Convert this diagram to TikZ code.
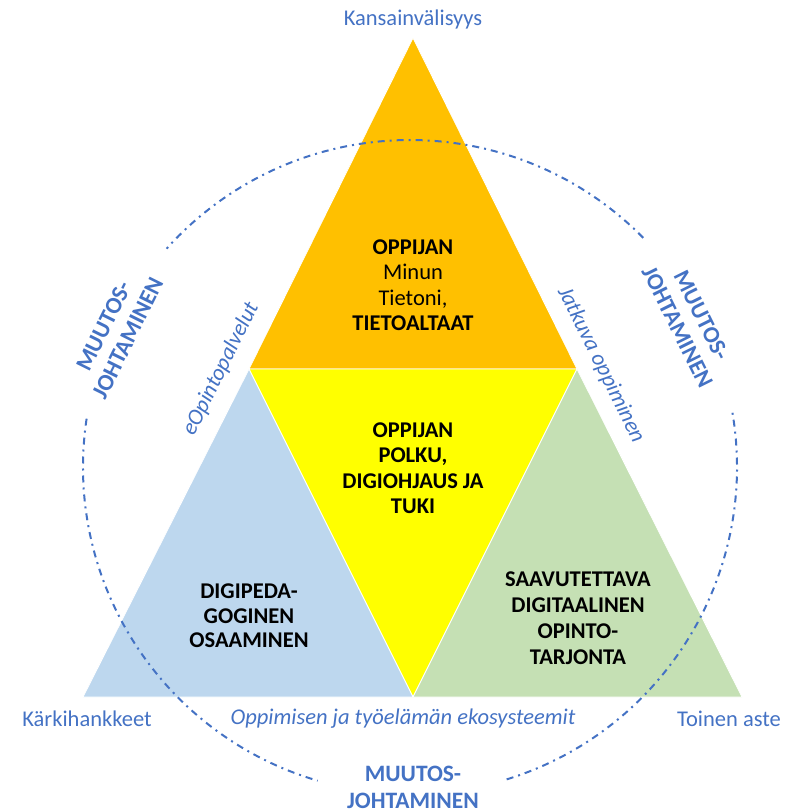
\documentclass[tikz,border=0pt]{standalone}
\usepackage{fontspec}
\setmainfont{Carlito}
\definecolor{ringblue}{HTML}{4472C4}
\definecolor{toporange}{HTML}{FFC000}
\definecolor{midyellow}{HTML}{FFFF00}
\definecolor{leftblue}{HTML}{BDD7EE}
\definecolor{rightgreen}{HTML}{C5E0B4}
\begin{document}
\begin{tikzpicture}[x=1pt, y=1pt,
    piece/.style={draw=white, line width=0.8pt, line join=round},
    core/.style={font=\fontsize{22.5}{25.5}\selectfont, align=center, inner sep=0pt},
    side/.style={core, text=ringblue},
    lead/.style={side, font=\fontsize{23.5}{27}\selectfont\bfseries},
    ring/.style={draw=ringblue, line width=2pt, dash pattern=on 7pt off 5pt on 2pt off 5pt}]
\useasboundingbox (0,0) rectangle (805,-812);
\coordinate (apex) at (413,-38);
\coordinate (midl) at (249,-369);
\coordinate (midr) at (577,-369);
\coordinate (basel) at (83,-697);
\coordinate (basem) at (413,-697);
\coordinate (baser) at (742,-697);
\coordinate (hub) at (410,-467);
\filldraw[piece, fill=toporange] (apex) -- (midl) -- (midr) -- cycle;
\filldraw[piece, fill=midyellow] (midl) -- (midr) -- (basem) -- cycle;
\filldraw[piece, fill=leftblue] (midl) -- (basel) -- (basem) -- cycle;
\filldraw[piece, fill=rightgreen] (midr) -- (basem) -- (baser) -- cycle;
\node[core] (learner) at (413,-285) {\textbf{OPPIJAN}\\Minun\\Tietoni,\\\textbf{TIETOALTAAT}};
\node[core, font=\fontsize{22.5}{25.5}\selectfont\bfseries] (path) at (413,-468) {OPPIJAN\\POLKU,\\DIGIOHJAUS JA\\TUKI};
\node[core, font=\fontsize{22.5}{24.5}\selectfont\bfseries] (pedagogy) at (249,-616) {DIGIPEDA-\\GOGINEN\\OSAAMINEN};
\node[core, font=\fontsize{22.5}{26}\selectfont\bfseries] (offering) at (578,-618) {SAAVUTETTAVA\\DIGITAALINEN\\OPINTO-\\TARJONTA};
\node[side] (intl) at (413,-19) {Kansainvälisyys};
\node[side] (flagship) at (87,-719) {Kärkihankkeet};
\node[side] (second) at (729,-719) {Toinen aste};
\node[side, font=\fontsize{22.5}{25.5}\selectfont\itshape] (ecosys) at (403,-719) {Oppimisen ja työelämän ekosysteemit};
\node[side, font=\fontsize{22.5}{25.5}\selectfont\itshape, rotate=63.6] (eservices) at (221,-369) {eOpintopalvelut};
\node[side, font=\fontsize{22.5}{25.5}\selectfont\itshape, rotate=-63.6] (lifelong) at (601,-365) {Jatkuva oppiminen};
\node[lead, rotate=63.6] (changel) at (116,-332) {MUUTOS-\\JOHTAMINEN};
\node[lead, rotate=-63.6] (changer) at (690,-321) {MUUTOS-\\JOHTAMINEN};
\node[lead] (changeb) at (413,-787) {MUUTOS-\\JOHTAMINEN};
\draw[ring] ([shift={(-72.8:327)}]hub) arc[start angle=-72.8, end angle=10.4, radius=327];
\draw[ring] ([shift={(44.5:327)}]hub) arc[start angle=44.5, end angle=138.1, radius=327];
\draw[ring] ([shift={(171.5:327)}]hub) arc[start angle=171.5, end angle=253.6, radius=327];
\end{tikzpicture}
\end{document}
